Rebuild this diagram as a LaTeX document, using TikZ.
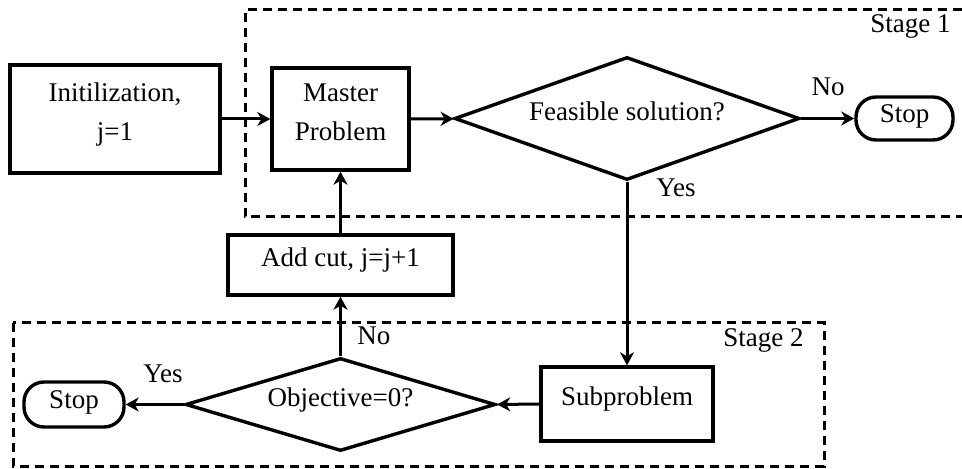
\documentclass[tikz,border=0pt]{standalone}
\usepackage{fontspec}
\setmainfont{Liberation Serif}
\usetikzlibrary{shapes.geometric,arrows.meta}
\begin{document}
\begin{tikzpicture}[x=0.5pt,y=-0.5pt,
  every node/.style={font=\fontsize{13.5}{19.5}\selectfont, inner sep=0pt},
  onebox/.style={draw, line width=1.7pt, text height=0.6em, text depth=0.4em},
  twobox/.style={draw, line width=1.7pt},
  decis/.style={draw, diamond, line width=1.7pt, aspect=2.8, text height=0.6em, text depth=0.4em},
  term/.style={draw, line width=1.7pt, rounded corners=10pt, text height=0.66em, text depth=0.3em},
  flow/.style={line width=1.5pt, -{Stealth[length=6.5pt,width=7pt,inset=2pt]}},
  stagebox/.style={line width=1.5pt, dash pattern=on 4.5pt off 3pt},
  lbl/.style={text height=0.68em, text depth=0.22em}
]
\useasboundingbox (0,0) rectangle (962,469);

% stage frames
\coordinate (s1a) at (962,10);
\coordinate (s1b) at (245,217);
\coordinate (s1c) at (962,217);
\draw[stagebox] (s1a) -| (s1b) -- (s1c);
\coordinate (s2a) at (13,323);
\coordinate (s2b) at (824,466);
\draw[stagebox] (s2a) rectangle (s2b);
\node[lbl, anchor=east] (st1) at (951,28) {Stage 1};
\node[lbl, anchor=east] (st2) at (804,342) {Stage 2};

% nodes
\node[twobox, minimum width=105pt, minimum height=54pt] (init) at (115,119)
  {\raisebox{-0.8pt}[0pt][0pt]{\begin{tabular}{@{}c@{}}Initilization,\\ j=1\end{tabular}}};
\node[twobox, minimum width=68.5pt, minimum height=51pt] (master) at (340.5,119)
  {\raisebox{-0.8pt}[0pt][0pt]{\begin{tabular}{@{}c@{}}Master\\ Problem\end{tabular}}};
\node[decis, minimum width=172.5pt, minimum height=61.5pt] (feas) at (627,118.5) {Feasible solution?};
\node[term, minimum width=48.5pt, minimum height=21.5pt] (stop1) at (904.5,118.5) {Stop};
\node[onebox, minimum width=112.5pt, minimum height=30pt] (addcut) at (340.5,265) {Add cut, j=j+1};
\node[onebox, minimum width=86pt, minimum height=37pt] (sub) at (627,404) {Subproblem};
\node[decis, minimum width=155pt, minimum height=46.5pt] (obj) at (340.5,404.5) {Objective=0?};
\node[term, minimum width=50pt, minimum height=22.5pt] (stop2) at (74,404.5) {Stop};

% connectors
\draw[flow] (init) -- (master);
\draw[flow] (master) -- (feas);
\draw[flow] (feas.east) -- (stop1.west);
\draw[flow] (feas.south) -- (sub.north);
\draw[flow] (sub.west) -- (obj.east);
\draw[flow] (obj.west) -- (stop2.east);
\draw[flow] (obj.north) -- (addcut.south);
\draw[flow] (addcut.north) -- (master.south);

% labels
\node[lbl] (no1) at (828,91) {No};
\node[lbl, anchor=west] (yes1) at (656,192) {Yes};
\node[lbl, anchor=west] (no2) at (357,340) {No};
\node[lbl] (yes2) at (163,378) {Yes};
\end{tikzpicture}
\end{document}
